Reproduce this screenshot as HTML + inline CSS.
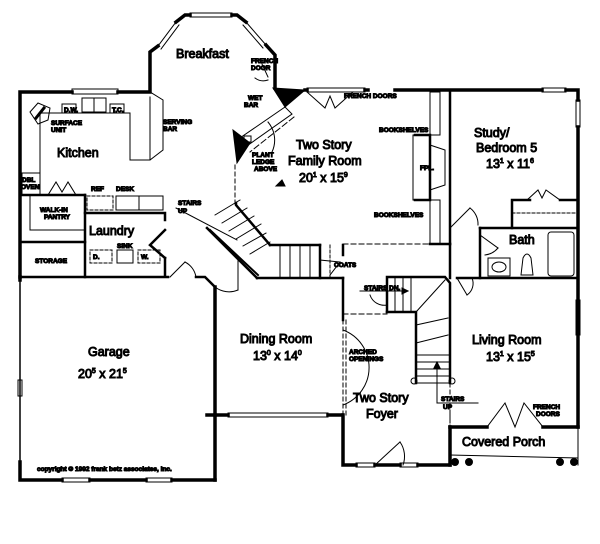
<!DOCTYPE html>
<html><head><meta charset="utf-8"><style>
html,body{margin:0;padding:0;background:#fff;}
svg{display:block;}
text{font-family:"Liberation Sans",sans-serif;fill:#000;}
.r{font-size:12.5px;}
.s{font-size:6.5px;font-weight:bold;}
</style></head><body>
<svg width="600" height="544" viewBox="0 0 600 544" xmlns="http://www.w3.org/2000/svg">
<g fill="none" stroke="#000" stroke-linecap="square">
<g stroke-width="3.5">
<polyline points="72,92 20,92 20,277"/>
<polyline points="118,92 150,92 150,52 158,46"/>
<polyline points="176,22 185,15 190,15"/>
<polyline points="232,15 237,15 246,22"/>
<polyline points="266,45 275,55 275,88"/>
<line x1="305" y1="90" x2="307" y2="90"/>
<line x1="365" y1="90" x2="368" y2="90"/>
<line x1="395" y1="90" x2="542" y2="90"/>
<polyline points="566,90 578,90 578,100"/>
<polyline points="578,127 578,427"/>
<line x1="20" y1="277" x2="20" y2="280"/>
<polyline points="20,462 20,480 62,480"/>
<line x1="90" y1="480" x2="146" y2="480"/>
<line x1="172" y1="480" x2="215" y2="480"/>
<polyline points="215,480 215,287"/>
<polyline points="215,415 207,415"/>
<polyline points="215,415 228,415"/>
<line x1="328" y1="415" x2="342" y2="415"/>
<polyline points="343,415 343,465 356,465"/>
<line x1="375" y1="465" x2="400" y2="465"/>
<line x1="418" y1="465" x2="450" y2="465"/>
<line x1="450" y1="427" x2="450" y2="465"/>
<line x1="450" y1="427" x2="487" y2="427"/>
<line x1="543" y1="427" x2="578" y2="427"/>
</g>
<g stroke-width="2.5">
<line x1="20" y1="195" x2="85" y2="195"/>
<line x1="20" y1="242" x2="85" y2="242"/>
<line x1="85" y1="195" x2="85" y2="277"/>
<polyline points="85,213 165,213 165,220"/>
<polyline points="165,258 165,275"/>
<polyline points="20,277 168,277"/>
<polyline points="196,277 205,277 215,287"/>
<line x1="450" y1="90" x2="450" y2="244"/>
<line x1="430" y1="244" x2="450" y2="244"/>
<polyline points="343,278 343,320"/>
<line x1="257" y1="278" x2="343" y2="278"/>
<line x1="320" y1="245" x2="320" y2="278"/>
<polyline points="270,245 320,245"/>
<polyline points="343,245 343,255"/>
<polyline points="387,312 387,277 445,277 450,283 450,383"/>
<polyline points="387,312 416,312 416,383"/>
<line x1="457" y1="278" x2="578" y2="278"/>
<line x1="480" y1="228" x2="480" y2="278"/>
<line x1="480" y1="228" x2="578" y2="228"/>
<polyline points="512,228 512,200 530,200"/>
<line x1="560" y1="200" x2="578" y2="200"/>
<polyline points="450,244 450,278"/>
<polyline points="236,203 236,205 270,245"/>
<polyline points="207,228 257,278"/>
<polyline points="165,230 150,245 165,258"/>
<polyline points="415,135 430,135 430,200 415,200"/>
</g>
<g stroke-width="1">
<rect x="72" y="89" width="46" height="5"/>
<rect x="190" y="13" width="42" height="4"/>
<line x1="158" y1="46" x2="176" y2="22"/><line x1="161" y1="49" x2="179" y2="25"/>
<line x1="246" y1="22" x2="266" y2="45"/><line x1="243" y1="25" x2="263" y2="48"/>
<rect x="307" y="88" width="58" height="4"/>
<rect x="542" y="88" width="24" height="4"/>
<rect x="576" y="100" width="4" height="27"/>
<rect x="62" y="478" width="28" height="4"/>
<rect x="146" y="478" width="26" height="4"/>
<rect x="228" y="413" width="100" height="4"/>
<rect x="356" y="463" width="19" height="4"/>
<rect x="400" y="463" width="18" height="4"/>
<rect x="576" y="300" width="4" height="35"/>
<line x1="20" y1="280" x2="20" y2="462" stroke-width="1.5"/>
<rect x="18" y="380" width="4" height="16"/>
<polyline points="40,175 40,113 130,113 130,160 150,160 163,150 163,100 150,92"/>
<polyline points="150,97 150,160"/>
<rect x="82" y="98" width="24" height="14"/><line x1="94" y1="98" x2="94" y2="112"/>
<rect x="62" y="104" width="14" height="9"/><rect x="110" y="104" width="14" height="9"/>
<polygon points="30,112 38,103 50,108 48,120 38,124"/>
<line x1="36" y1="118" x2="44" y2="108" stroke-width="3"/>
<rect x="22" y="173" width="18" height="22"/>
<polyline points="48,195 56,182 62,192 68,182 76,195"/>
<rect x="87" y="196" width="26" height="14" stroke-dasharray="3,2"/>
<rect x="116" y="196" width="47" height="14"/><line x1="139" y1="196" x2="139" y2="210"/>
<line x1="85" y1="213" x2="163" y2="213"/>
<polyline points="30,195 30,230 85,230"/>
<rect x="90" y="250" width="22" height="13" stroke-dasharray="3,2"/>
<rect x="117" y="250" width="16" height="13"/>
<rect x="138" y="250" width="22" height="13" stroke-dasharray="3,2"/>
<line x1="170" y1="277" x2="185" y2="262"/><path d="M185,262 A21,21 0 0 1 196,277"/>
<line x1="238" y1="260" x2="238" y2="290"/><path d="M215,287 A23,23 0 0 0 238,290"/>
<line x1="268" y1="77" x2="262" y2="64"/><path d="M255,78 A14,14 0 0 0 268,80"/>
<line x1="235" y1="165" x2="235" y2="205" stroke-dasharray="4,3"/>
<polyline points="307,92 325,108 330,96 335,108 353,92"/>
<polyline points="450,228 460,218 470,208"/><path d="M470,208 A20,20 0 0 1 478,225"/>
<line x1="480" y1="235" x2="498" y2="248"/><path d="M498,248 A20,20 0 0 1 485,255"/>
<polyline points="527,200 538,190 542,198 546,190 560,200"/>
<line x1="512" y1="213" x2="578" y2="213" stroke-dasharray="3,2"/>
<line x1="457" y1="278" x2="467" y2="295"/><path d="M467,295 A14,14 0 0 0 472,278"/>
<polyline points="487,427 505,403 515,427 524,403 543,427"/>
<line x1="375" y1="465" x2="400" y2="442"/><path d="M400,442 A25,25 0 0 1 403,465"/>
<line x1="450" y1="455" x2="578" y2="458"/>
<line x1="578" y1="427" x2="578" y2="465"/>
<line x1="343" y1="244" x2="430" y2="244" stroke-dasharray="5,3"/>
<line x1="343" y1="314" x2="387" y2="314" stroke-dasharray="5,3"/>
<line x1="343" y1="320" x2="343" y2="415" stroke-dasharray="4,3"/>
<line x1="346" y1="320" x2="346" y2="415" stroke-dasharray="4,3"/>
<path d="M343,330 A40,40 0 0 1 343,405"/>
<line x1="450" y1="383" x2="450" y2="427" stroke-dasharray="4,3"/>
<rect x="430" y="92" width="10" height="43"/><line x1="440" y1="92" x2="440" y2="135"/>
<rect x="430" y="200" width="10" height="44"/>
<rect x="413" y="135" width="17" height="65"/>
<polyline points="430,145 445,150 445,185 430,190"/>
<polygon points="285,107 237,140 244,148 292,114"/>
<line x1="294" y1="117" x2="250" y2="152" stroke-dasharray="6,3"/>
<rect x="244" y="136" width="7" height="6"/>
<path d="M268,122 A28,28 0 0 1 272,152"/>
<line x1="215" y1="215" x2="240" y2="200"/>
<line x1="222" y1="223" x2="247" y2="208"/>
<line x1="229" y1="231" x2="254" y2="216"/>
<line x1="236" y1="239" x2="261" y2="224"/>
<line x1="243" y1="246" x2="266" y2="233"/>
<line x1="250" y1="254" x2="270" y2="242"/>
<line x1="210" y1="230" x2="258" y2="275" stroke-width="2"/>
<line x1="280" y1="245" x2="280" y2="278"/>
<line x1="290" y1="245" x2="290" y2="278"/>
<line x1="300" y1="245" x2="300" y2="278"/>
<line x1="310" y1="245" x2="310" y2="278"/>
<line x1="330" y1="245" x2="330" y2="278" stroke-dasharray="3,2"/>
<polyline points="320,260 340,262 330,275"/>
<line x1="176" y1="208" x2="237" y2="240"/>
<line x1="395" y1="277" x2="395" y2="312"/><line x1="403" y1="277" x2="403" y2="312"/>
<line x1="411" y1="277" x2="411" y2="312"/><line x1="416" y1="312" x2="445" y2="280"/>
<line x1="416" y1="325" x2="448" y2="318"/><line x1="416" y1="343" x2="448" y2="335"/>
<line x1="416" y1="355" x2="450" y2="355"/><line x1="416" y1="362" x2="450" y2="362"/>
<line x1="416" y1="369" x2="450" y2="369"/><line x1="416" y1="376" x2="450" y2="376"/>
<line x1="416" y1="383" x2="450" y2="383"/>
<circle cx="414" cy="381" r="3"/><circle cx="452" cy="381" r="3"/>
<line x1="437" y1="365" x2="437" y2="403"/><line x1="437" y1="403" x2="478" y2="403"/>
<line x1="450" y1="410" x2="450" y2="427" stroke-dasharray="3,2"/>
<line x1="360" y1="291" x2="408" y2="291"/>
<path d="M370,295 A15,15 0 0 0 387,305"/>
<rect x="488" y="258" width="22" height="18"/><ellipse cx="499" cy="267" rx="7" ry="5"/>
<path d="M521,275 L523,258 Q527,250 531,258 L533,275 Z"/>
<rect x="548" y="232" width="26" height="44" rx="3"/>
</g>
<g fill="#000">
<polygon points="273,88 305,90 285,107"/>
<polygon points="233,130 250,143 237,163"/>
<polygon points="282,180 276,186 285,186"/>
<polygon points="408,291 402,288 402,294"/>
<polygon points="437,362 434,368 440,368"/>
<circle cx="455" cy="462" r="3.5"/><circle cx="469" cy="462" r="3.5"/>
<circle cx="560" cy="462" r="3.5"/><circle cx="574" cy="462" r="3.5"/>
</g>
<text class="r" x="176" y="58">Breakfast</text>
<text class="r" x="57" y="157">Kitchen</text>
<text class="r" x="296" y="149">Two Story</text>
<text class="r" x="288" y="165">Family Room</text>
<text class="r" x="299" y="182">20<tspan font-size="7" dy="-5">1</tspan><tspan dy="5"> x 15</tspan><tspan font-size="7" dy="-5">9</tspan></text>
<text class="r" x="474" y="137">Study/</text>
<text class="r" x="476" y="152">Bedroom 5</text>
<text class="r" x="486" y="168">13<tspan font-size="7" dy="-5">1</tspan><tspan dy="5"> x 11</tspan><tspan font-size="7" dy="-5">6</tspan></text>
<text class="r" x="509" y="244">Bath</text>
<text class="r" x="89" y="235">Laundry</text>
<text class="r" x="88" y="356">Garage</text>
<text class="r" x="78" y="378">20<tspan font-size="7" dy="-5">5</tspan><tspan dy="5"> x 21</tspan><tspan font-size="7" dy="-5">5</tspan></text>
<text class="r" x="240" y="343">Dining Room</text>
<text class="r" x="253" y="360">13<tspan font-size="7" dy="-5">0</tspan><tspan dy="5"> x 14</tspan><tspan font-size="7" dy="-5">0</tspan></text>
<text class="r" x="353" y="402">Two Story</text>
<text class="r" x="366" y="418">Foyer</text>
<text class="r" x="472" y="344">Living Room</text>
<text class="r" x="486" y="361">13<tspan font-size="7" dy="-5">1</tspan><tspan dy="5"> x 15</tspan><tspan font-size="7" dy="-5">5</tspan></text>
<text class="r" x="462" y="446">Covered Porch</text>
<text class="s" x="251" y="63">FRENCH</text><text class="s" x="251" y="70">DOOR</text>
<text class="s" x="248" y="100">WET</text><text class="s" x="244" y="107">BAR</text>
<text class="s" x="252" y="157">PLANT</text><text class="s" x="252" y="164">LEDGE</text><text class="s" x="254" y="171">ABOVE</text>
<text class="s" x="163" y="124">SERVING</text><text class="s" x="163" y="131">BAR</text>
<text class="s" x="51" y="125">SURFACE</text><text class="s" x="51" y="132">UNIT</text>
<text class="s" x="64" y="112">D.W.</text><text class="s" x="112" y="112">T.C.</text>
<text class="s" x="22" y="182">DBL</text><text class="s" x="21" y="189">OVEN</text>
<text class="s" x="91" y="191">REF</text><text class="s" x="116" y="191">DESK</text>
<text class="s" x="40" y="212">WALK-IN</text><text class="s" x="44" y="219">PANTRY</text>
<text class="s" x="35" y="263">STORAGE</text>
<text class="s" x="93" y="259">D.</text><text class="s" x="117" y="248">SINK</text><text class="s" x="141" y="259">W.</text>
<text class="s" x="178" y="205">STAIRS</text><text class="s" x="178" y="213">UP</text>
<text class="s" x="344" y="98">FRENCH DOORS</text>
<text class="s" x="379" y="132">BOOKSHELVES</text>
<text class="s" x="374" y="217">BOOKSHELVES</text>
<text class="s" x="420" y="170">FPL.</text>
<text class="s" x="334" y="267">COATS</text>
<text class="s" x="364" y="290">STAIRS DN.</text>
<text class="s" x="349" y="354">ARCHED</text><text class="s" x="349" y="361">OPENINGS</text>
<text class="s" x="441" y="401">STAIRS</text><text class="s" x="443" y="409">UP</text>
<text class="s" x="533" y="409">FRENCH</text><text class="s" x="536" y="416">DOORS</text>
<text x="37" y="471" style="font-size:6.5px;font-weight:bold;">copyright © 1992 frank betz associates, inc.</text>
</svg>
</body></html>
